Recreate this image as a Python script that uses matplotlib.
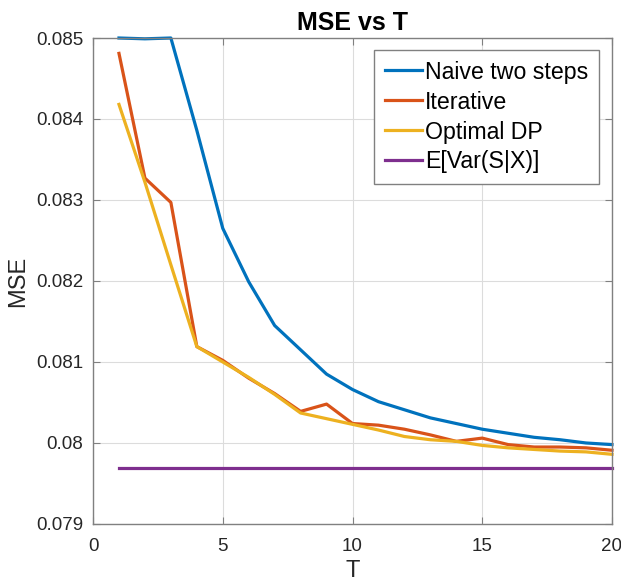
import matplotlib
matplotlib.use("Agg")
import matplotlib.pyplot as plt

plt.rcParams['font.family'] = ['Liberation Sans', 'DejaVu Sans']

T = list(range(1, 21))
naive = [0.08500, 0.08499, 0.08500, 0.08386, 0.08265, 0.08199, 0.08145, 0.08115,
         0.08085, 0.08066, 0.08051, 0.08041, 0.08031, 0.08024, 0.08017, 0.08012,
         0.08007, 0.08004, 0.08000, 0.07998]
iterative = [0.08481, 0.08327, 0.08297, 0.08119, 0.08102, 0.08080, 0.08061, 0.08039,
             0.08048, 0.08024, 0.08022, 0.08017, 0.08010, 0.08002, 0.08006, 0.07998,
             0.07995, 0.07995, 0.07994, 0.07991]
optimal = [0.08418, 0.08322, 0.08220, 0.08119, 0.08100, 0.08081, 0.08060, 0.08037,
           0.08030, 0.08023, 0.08016, 0.08008, 0.08004, 0.08002, 0.07997, 0.07994,
           0.07992, 0.07990, 0.07989, 0.07986]
evar = [0.079688] * 20

labels = ["Naive two steps", "Iterative", "Optimal DP", "E[Var(S|X)]"]
colors = ["#0072BD", "#D95319", "#EDB120", "#7E2F8E"]

fig = plt.figure(figsize=(6.21, 5.82), dpi=100)
ax = fig.add_axes([0.1498, 0.0997, 0.8357, 0.835])

for y, lab, c in zip([naive, iterative, optimal, evar], labels, colors):
    ax.plot(T, y, color=c, lw=2.3, label=lab, clip_on=False)

ax.set_xlim(0, 20)
ax.set_ylim(0.079, 0.085)
ax.set_xticks([0, 5, 10, 15, 20])
ax.set_yticks([0.079, 0.080, 0.081, 0.082, 0.083, 0.084, 0.085])
ax.set_yticklabels(["0.079", "0.08", "0.081", "0.082", "0.083", "0.084", "0.085"])
ax.grid(True, color='#dcdcdc', lw=0.8)
ax.set_axisbelow(True)
for s in ax.spines.values():
    s.set_color('#808080')
    s.set_linewidth(1.0)
ax.tick_params(direction='in', length=5, color='#808080', labelsize=13.5,
               labelcolor='#262626', top=True, right=True, labeltop=False, labelright=False)
ax.tick_params(axis='x', pad=10)
ax.tick_params(axis='y', pad=7)
ax.set_xlabel("T", fontsize=17, color='#262626', labelpad=4)
ax.set_ylabel("MSE", fontsize=17, color='#262626', labelpad=5)
ax.set_title("MSE vs T", fontsize=18, fontweight='bold', pad=6)

leg = ax.legend(loc='upper right', bbox_to_anchor=(0.975, 0.975), borderaxespad=0,
                fontsize=16.7, handlelength=1.6, handletextpad=0.15, labelspacing=0.3,
                borderpad=0.45, fancybox=False, framealpha=1)
leg.get_frame().set_edgecolor('#808080')
leg.get_frame().set_linewidth(1.0)

fig.savefig("out.png", dpi=100)
